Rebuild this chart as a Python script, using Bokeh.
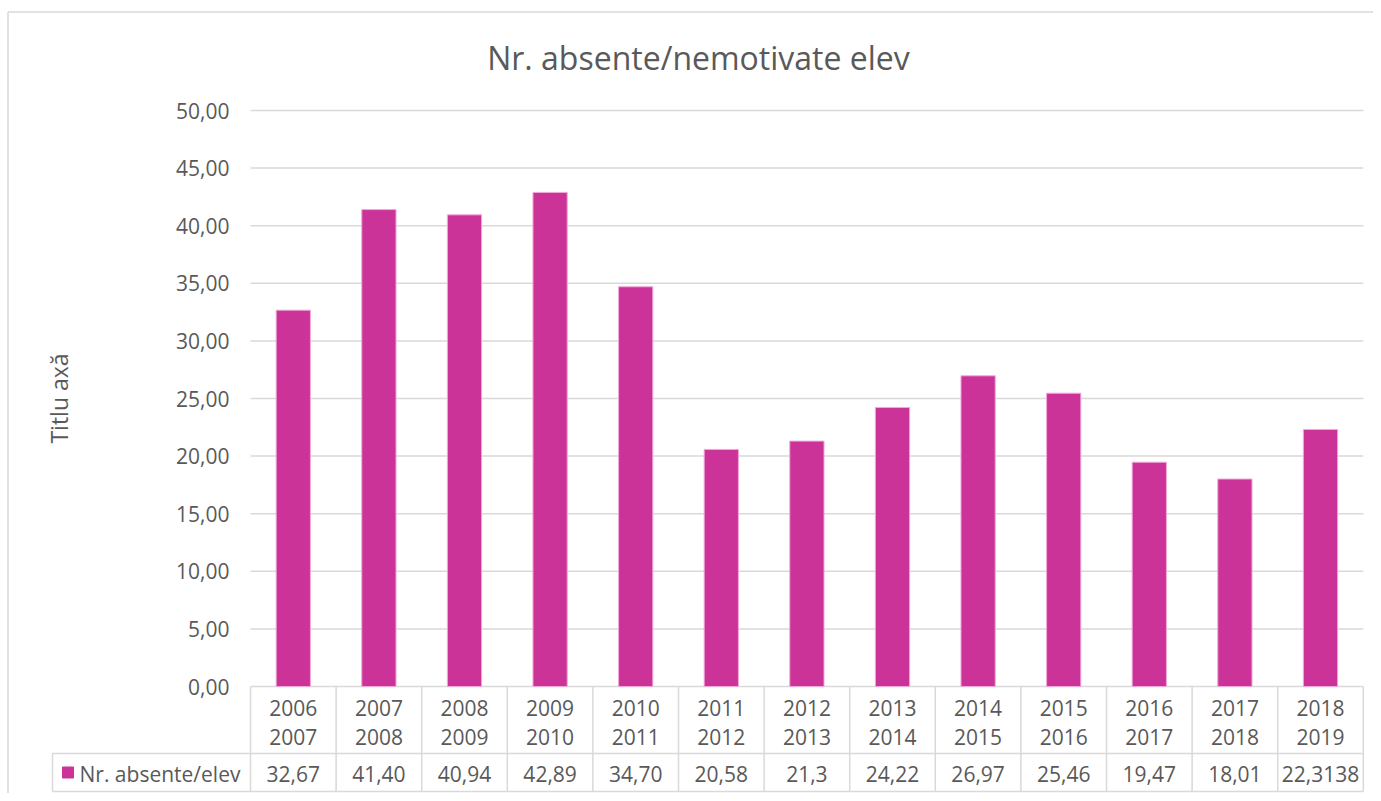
from bokeh.plotting import figure
from bokeh.models import Range1d, ColumnDataSource
from bokeh.core.properties import value
from bokeh.embed import file_html
from bokeh.resources import INLINE

# ---------------- data ----------------
categories = ["2006\n2007", "2007\n2008", "2008\n2009", "2009\n2010", "2010\n2011",
              "2011\n2012", "2012\n2013", "2013\n2014", "2014\n2015", "2015\n2016",
              "2016\n2017", "2017\n2018", "2018\n2019"]
values = [32.67, 41.40, 40.94, 42.89, 34.70, 20.58, 21.3, 24.22, 26.97, 25.46, 19.47, 18.01, 22.3138]
value_labels = ["32,67", "41,40", "40,94", "42,89", "34,70", "20,58", "21,3",
                "24,22", "26,97", "25,46", "19,47", "18,01", "22,3138"]
y_ticks = [0, 5, 10, 15, 20, 25, 30, 35, 40, 45, 50]
series_name = "Nr. absente/elev"
title_text = "Nr. absente/nemotivate elev"
y_title = "Titlu axă"

# ---------------- layout constants ----------------
W, H = 1373, 793
PAGE_X0, PAGE_Y0 = 0, 0
X0, CW = 250.0, 85.6      # page px of first category edge, px per category
Y0, YS = 686.0, 11.52     # page px of value 0, px per unit


def dx(px):
    return (px - X0) / CW


def dy(py):
    return (Y0 - py) / YS


BAR = "#CC3399"
TXT = "#595959"
GRID = "#d9d9d9"
FONT = value("Open Sans")
FS = "21px"

n = len(categories)
xs = [i + 0.5 for i in range(n)]

p = figure(width=W, height=H, output_backend="svg", toolbar_location=None,
           x_range=Range1d(dx(PAGE_X0), dx(PAGE_X0 + W)),
           y_range=Range1d(dy(PAGE_Y0 + H), dy(PAGE_Y0)),
           x_axis_location=None, y_axis_location=None, min_border=0,
           outline_line_color=None)
p.xgrid.visible = False
p.ygrid.visible = False
p.background_fill_color = "white"
p.border_fill_color = "white"

# outer chart border (top & left visible)
p.segment(x0=[dx(7.5), dx(7.5)], y0=[dy(11.5), dy(11.5)],
          x1=[dx(PAGE_X0 + W), dx(7.5)], y1=[dy(11.5), dy(PAGE_Y0 + H)],
          line_color=GRID, line_width=1.5)

# gridlines
p.segment(x0=[0] * len(y_ticks), x1=[n] * len(y_ticks), y0=y_ticks, y1=y_ticks,
          line_color=GRID, line_width=1.5)

# bars
src = ColumnDataSource(dict(x=xs, top=values))
p.vbar(x="x", top="top", bottom=0, width=0.4, source=src,
       fill_color=BAR, line_color="#f0a8d8", line_width=1)

# y tick labels
p.text(x=[dx(229)] * len(y_ticks), y=y_ticks,
       text=[f"{t:.2f}".replace(".", ",") for t in y_ticks],
       text_align="right", text_baseline="middle", text_font=FONT,
       text_font_size=FS, text_color=TXT)

# y axis title
p.text(x=[dx(58)], y=[dy(398)], text=[y_title], angle=1.5707963,
       text_align="center", text_baseline="middle", text_font=FONT,
       text_font_size="23px", text_color=TXT)

# chart title
p.text(x=[dx(698)], y=[dy(57)], text=[title_text], text_align="center",
       text_baseline="middle", text_font=FONT, text_font_size="32px",
       text_color=TXT)

# data table lines
row_split = dy(753)
row_bottom = dy(791)
leg_left = dx(52)
p.segment(x0=[leg_left, leg_left], x1=[n, n], y0=[row_split, row_bottom],
          y1=[row_split, row_bottom], line_color=GRID, line_width=1.5)
p.segment(x0=list(range(n + 1)) + [leg_left], x1=list(range(n + 1)) + [leg_left],
          y0=[0] * (n + 1) + [row_split], y1=[row_bottom] * (n + 2),
          line_color=GRID, line_width=1.5)

# category labels (two lines)
top_lines = [c.split("\n")[0] for c in categories]
bot_lines = [c.split("\n")[1] for c in categories]
p.text(x=xs, y=[dy(707)] * n, text=top_lines, text_align="center",
       text_baseline="middle", text_font=FONT, text_font_size=FS, text_color=TXT)
p.text(x=xs, y=[dy(736)] * n, text=bot_lines, text_align="center",
       text_baseline="middle", text_font=FONT, text_font_size=FS, text_color=TXT)

# value row
p.text(x=xs, y=[dy(773)] * n, text=value_labels, text_align="center",
       text_baseline="middle", text_font=FONT, text_font_size=FS, text_color=TXT)

# legend key in table
p.scatter(x=[dx(67.5)], y=[dy(772)], marker="square", size=11,
          fill_color=BAR, line_color=BAR)
p.text(x=[dx(79)], y=[dy(773)], text=[series_name], text_align="left",
       text_baseline="middle", text_font=FONT, text_font_size=FS, text_color=TXT)

open("out.html", "w").write(file_html(p, INLINE))
